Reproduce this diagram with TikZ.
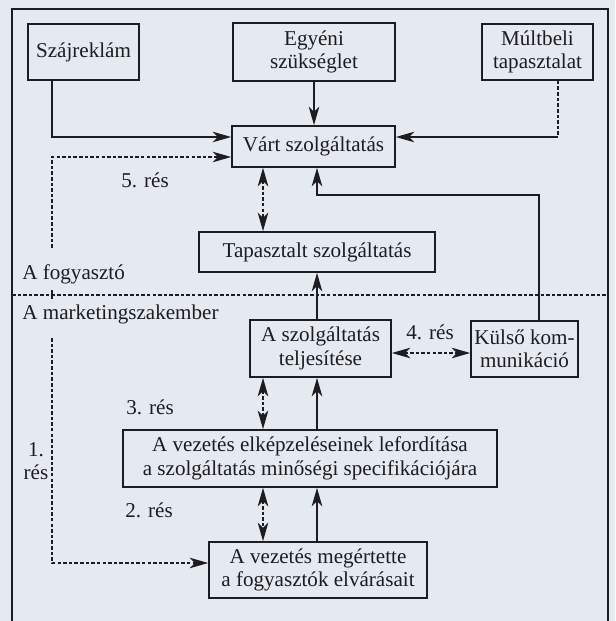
\documentclass[tikz,border=0pt]{standalone}
\usepackage{fontspec}
\setmainfont{Liberation Serif}
\usepackage{xcolor}
\usepackage{tikz}
\usetikzlibrary{arrows.meta, positioning, calc}
\definecolor{mypaper}{RGB}{229,233,240}
\definecolor{mydark}{RGB}{28,28,34}
\tikzset{
  box/.style={rectangle, draw=mydark, line width=1pt, align=center,
    inner sep=0pt, font=\fontsize{12}{13.3}\selectfont},
  arrow/.style={-{Stealth[length=10.5pt,width=6pt,inset=3pt]}, line width=0.85pt, color=mydark},
  gaparrow/.style={{Stealth[length=10.5pt,width=6pt,inset=3pt]}-{Stealth[length=10.5pt,width=6pt,inset=3pt]},
    line width=0.75pt, color=mydark, dash pattern=on 2pt off 1.2pt},
  gapline/.style={line width=0.75pt, color=mydark, dash pattern=on 2pt off 1.2pt},
  resnote/.style={font=\fontsize{12}{13.3}\selectfont, inner sep=0pt, align=center}
}

\begin{document}
\begin{tikzpicture}[text=mydark]
  % Paper and frame
  \useasboundingbox (0,0) rectangle (12.3,-12.42);
  \fill[mypaper] (0,0) rectangle (12.3,-12.42);
  \draw[draw=mydark, line width=1pt] (0.24,-12.42) -- (0.24,-0.18) -- (12.16,-0.18) -- (12.16,-12.42);

  % Consumer side
  \node[box, minimum width=2.22cm, minimum height=1.12cm] (szaj) at (1.67,-1.04) {Szájreklám};
  \node[box, minimum width=3.24cm, minimum height=1.16cm] (egyeni) at (6.28,-1.04) {Egyéni\\szükséglet};
  \node[box, minimum width=2.22cm, minimum height=1.12cm] (mult) at (10.75,-1.04) {Múltbeli\\tapasztalat};
  \node[box, minimum width=3.26cm, minimum height=0.82cm] (vart) at (6.27,-2.93) {Várt szolgáltatás};
  \node[box, minimum width=4.72cm, minimum height=0.80cm] (tapasz) at (6.34,-5.04) {Tapasztalt szolgáltatás};

  % Divider between the two sides
  \coordinate (divL) at (0.24,-5.90);
  \coordinate (divR) at (12.16,-5.90);
  \draw[gapline] (divL) -- (divR);
  \node[resnote, anchor=base west] (fogy) at (0.44,-5.58) {A fogyasztó};
  \node[resnote, anchor=base west] (mark) at (0.44,-6.38) {A marketingszakember};

  % Marketer side
  \node[box, minimum width=2.82cm, minimum height=1.14cm] (telj) at (6.41,-6.97) {A szolgáltatás\\teljesítése};
  \node[box, minimum width=2.14cm, minimum height=1.12cm] (kulso) at (10.49,-6.98) {Külső kom-\\munikáció};
  \node[box, minimum width=7.48cm, minimum height=1.14cm] (spec) at (6.20,-9.17) {A vezetés elképzeléseinek lefordítása\\a szolgáltatás minőségi specifikációjára};
  \node[box, minimum width=4.36cm, minimum height=1.12cm] (ert) at (6.36,-11.40) {A vezetés megértette\\a fogyasztók elvárásait};

  % Inputs to the expected service
  \draw[arrow] ([xshift=-0.63cm]szaj.south) |- ([yshift=0.19cm]vart.west);
  \draw[arrow] (egyeni.south) -- (egyeni.south |- vart.north);
  \coordinate (mcorner) at ([xshift=0.41cm]mult.south |- 0,-2.74);
  \draw[gapline] ([xshift=0.41cm]mult.south) -- (mcorner);
  \draw[arrow] (mcorner) -- (vart.east |- mcorner);
  \coordinate (kcorner) at ([xshift=0.29cm]kulso.north |- 0,-3.90);
  \draw[arrow] ([xshift=0.29cm]kulso.north) -- (kcorner) -| (tapasz.north |- vart.south);

  % Flows upward (solid) and gaps (dashed) in the middle column
  \coordinate (gx) at (5.26,0);
  \draw[arrow] (tapasz.south |- telj.north) -- (tapasz.south);
  \draw[arrow] (tapasz.south |- spec.north) -- (tapasz.south |- telj.south);
  \draw[arrow] (tapasz.south |- ert.north) -- (tapasz.south |- spec.south);
  \draw[gaparrow] (gx |- vart.south) -- (gx |- tapasz.north);
  \draw[gaparrow] (gx |- telj.south) -- (gx |- spec.north);
  \draw[gaparrow] (gx |- spec.south) -- (gx |- ert.north);
  \draw[gaparrow] ([yshift=-0.09cm]telj.east) -- ([yshift=-0.09cm]telj.east -| kulso.west);

  % 1. and 5. gap on the left
  \coordinate (gapA) at (1.04,-4.96);
  \coordinate (gapB) at (1.04,-5.80);
  \coordinate (gapC) at (1.04,-6.00);
  \coordinate (gapD) at (1.04,-6.76);
  \draw[gapline, arrow] (gapA) |- ([yshift=-0.21cm]vart.west);
  \draw[gapline] (gapB) -- (gapC);
  \draw[gapline, arrow] (gapD) |- ([yshift=0.14cm]ert.west);

  % Gap labels
  \node[resnote] (r5) at (2.90,-3.60) {5. rés};
  \node[resnote] (r4) at (8.60,-6.64) {4. rés};
  \node[resnote] (r3) at (3.00,-8.14) {3. rés};
  \node[resnote] (r2) at (2.98,-10.20) {2. rés};
  \node[resnote] (r1) at (0.72,-9.22) {1.\\rés};
\end{tikzpicture}
\end{document}
